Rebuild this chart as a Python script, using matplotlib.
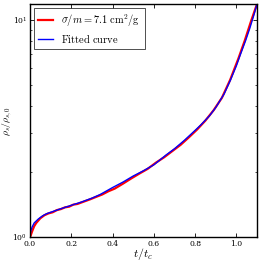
import matplotlib
matplotlib.use("Agg")
import matplotlib.pyplot as plt
from matplotlib import rcParams

# simulation data
t_sim = [0.0, 0.004, 0.01, 0.02, 0.03, 0.05, 0.07, 0.09, 0.11, 0.13, 0.15, 0.17,
         0.19, 0.21, 0.23, 0.26, 0.29, 0.32, 0.35, 0.38, 0.41, 0.45, 0.49, 0.53,
         0.57, 0.61, 0.65, 0.69, 0.73, 0.77, 0.81, 0.85, 0.89, 0.93, 0.97, 1.01,
         1.04, 1.07, 1.1]
rho_sim = [1.0, 1.02, 1.06, 1.12, 1.16, 1.22, 1.26, 1.285, 1.30, 1.33, 1.345, 1.37,
           1.38, 1.41, 1.42, 1.455, 1.49, 1.53, 1.57, 1.625, 1.67, 1.76, 1.86, 1.96,
           2.06, 2.20, 2.33, 2.49, 2.66, 2.88, 3.13, 3.44, 3.84, 4.38, 5.30, 6.65,
           8.00, 9.80, 11.85]

# fitted curve
t_fit = [0.0, 0.003, 0.01, 0.02, 0.04, 0.06, 0.08, 0.1, 0.15, 0.2, 0.25, 0.3,
         0.34, 0.4, 0.45, 0.5, 0.55, 0.6, 0.66, 0.7, 0.75, 0.8, 0.83, 0.87,
         0.9, 0.94, 0.97, 1.0, 1.02, 1.045, 1.065, 1.085, 1.1]
rho_fit = [1.0, 1.06, 1.11, 1.16, 1.21, 1.25, 1.28, 1.30, 1.35, 1.40, 1.45, 1.51,
           1.57, 1.69, 1.79, 1.91, 2.02, 2.15, 2.39, 2.55, 2.80, 3.10, 3.30, 3.62,
           3.95, 4.55, 5.25, 6.15, 6.95, 8.05, 9.15, 10.55, 11.85]

rcParams.update({
    "font.family": "serif",
    "font.size": 6,
    "mathtext.fontset": "cm",
    "xtick.direction": "in",
    "ytick.direction": "in",
    "xtick.top": True,
    "ytick.right": True,
})

fig = plt.figure(figsize=(2.61, 2.62), dpi=100)
ax = fig.add_axes([30 / 261, 25 / 262, 227 / 261, 233 / 262])

ax.plot(t_sim, rho_sim, color="red", lw=1.6, label=r"$\sigma/m = 7.1\ \mathrm{cm}^2/\mathrm{g}$")
ax.plot(t_fit, rho_fit, color="blue", lw=1.0, label=r"$\mathrm{Fitted\ curve}$")

ax.set_yscale("log")
ax.set_xlim(0, 1.1)
ax.set_ylim(1.0, 11.85)
ax.set_xticks([0.0, 0.2, 0.4, 0.6, 0.8, 1.0])
ax.tick_params(which="major", length=3, width=0.6, labelsize=5.5, pad=2)
ax.tick_params(which="minor", length=1.5, width=0.5)
for sp in ax.spines.values():
    sp.set_linewidth(1.0)

ax.set_xlabel(r"$t/t_c$", fontsize=8.5)
ax.xaxis.set_label_coords(0.5, -0.04)
ax.set_ylabel(r"$\rho_s/\rho_{s,0}$", fontsize=7)
ax.yaxis.set_label_coords(-0.07, 0.5)

leg = ax.legend(loc="upper left", fontsize=7.5, frameon=True, fancybox=False,
                edgecolor="black", handlelength=1.4, borderpad=0.45, labelspacing=0.35,
                borderaxespad=0.35)
leg.get_frame().set_linewidth(0.6)

fig.savefig("out.png", dpi=100)
